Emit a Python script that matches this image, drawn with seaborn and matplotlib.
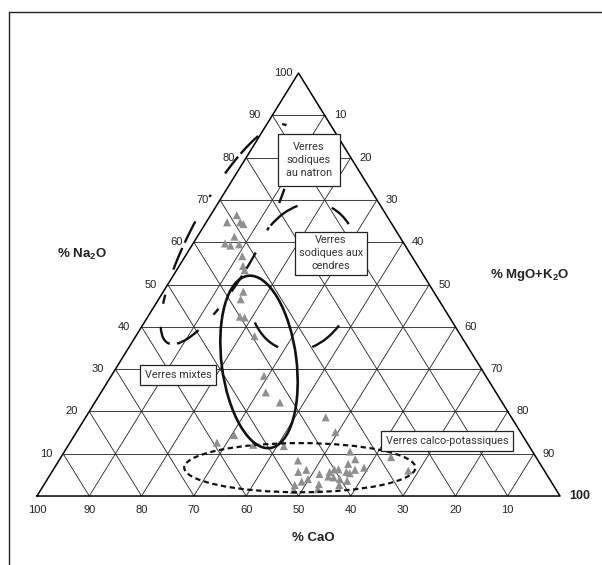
import numpy as np
import pandas as pd
import matplotlib
matplotlib.use("Agg")
import matplotlib.pyplot as plt
import seaborn as sns
from matplotlib.patches import Ellipse, Arc
from matplotlib.lines import Line2D

# ---------------- data ----------------
# % Na2O and % CaO of each glass, MgO+K2O is the remainder
na2o = [66.4, 64.7, 64.7, 64.3, 61.3, 59.7, 59.2, 59.5, 56.7, 54.4, 53.4,
        48.3, 46.5, 42.4, 42.2, 37.8, 28.4, 24.5, 22.1, 18.6, 14.4, 12.6,
        12.1, 11.8, 15.1, 10.5, 9.2, 6.0,
        8.4, 5.7, 6.2, 4.0, 3.4, 2.6, 5.2, 2.8, 5.7, 6.3, 6.3, 7.6, 8.7,
        6.7, 4.6, 4.4, 4.0, 5.7, 5.4, 6.2, 3.6, 2.6, 1.6, 1.4]
cao = [28.6, 31.3, 28.8, 28.4, 31.6, 34.2, 33.4, 31.6, 32.4, 33.4, 33.6,
       36.4, 37.8, 40.0, 39.2, 39.5, 42.4, 44.0, 42.5, 35.5, 55.1, 59.3,
       52.6, 46.9, 35.4, 34.9, 27.7, 26.0,
       45.9, 47.2, 45.4, 46.2, 47.7, 49.4, 43.4, 44.7, 41.2, 40.0, 39.2,
       36.7, 34.8, 34.1, 42.0, 41.1, 40.1, 38.0, 37.5, 36.1, 38.9, 40.9,
       45.5, 50.2]

ticks = [10, 20, 30, 40, 50, 60, 70, 80, 90]
cao_ticks = [100, 90, 80, 70, 60, 50, 40, 30, 20, 10]

# groups: label, text position (Na2O, CaO)
group_labels = ["Verres\nsodiques\nau natron", "Verres\nsodiques aux\ncendres",
                "Verres mixtes", "Verres calco-potassiques"]
group_na = [79.4, 57.4, 28.6, 13.0]
group_ca = [8.3, 15.1, 58.7, 15.1]
box_pad = [0.75, 0.35, 0.45, 0.45]

# outlines of the groups: centre (Na2O, CaO), width, height, angle
ell_na = [61.9, 51.8, 31.7, 6.7]
ell_ca = [32.7, 23.1, 41.7, 46.4]
ell_w = [47.4, 20.65, 14.3, 44.2]
ell_h = [13.0, 28.7, 33.2, 9.4]
ell_ang = [61.4, -15.0, 7.3, 0.0]

# hand-drawn dashes of the two sodic outlines (angles along the outline)
natron_dash = [(0, 2), (11, 19), (20.5, 30.5), (51, 54), (96.5, 130),
               (135.7, 152), (163, 166), (173, 181), (184, 192), (199, 202),
               (213, 228.5), (238, 266), (304, 308), (329.5, 337)]
cendres_dash = [(64.6, 82.9), (110, 137.7), (238, 265), (292, 321)]

H = 80.88  # height of the triangle in plot units (base = 100)


def tern(na, ca):
    na = np.asarray(na, dtype=float)
    ca = np.asarray(ca, dtype=float)
    return 100 - ca - na / 2, na * H / 100


sns.set_style("white")
plt.rcParams["font.family"] = ["Liberation Sans", "DejaVu Sans"]
plt.rcParams["mathtext.fontset"] = "custom"
plt.rcParams["mathtext.rm"] = "Liberation Sans"
plt.rcParams["mathtext.bf"] = "Liberation Sans:bold"

fig = plt.figure(figsize=(6.02, 5.65), dpi=100)
ax = fig.add_axes([0, 0, 1, 1])
ax.set_xlim(-7.07, 108.03)
ax.set_ylim(-13.19, 94.84)
ax.axis("off")

# frame
fig.add_artist(Line2D([0.015, 0.015], [0, 0.979], color="#222222", lw=1))
fig.add_artist(Line2D([0.015, 1], [0.979, 0.979], color="#222222", lw=1))

# grid
for k in ticks:
    # Na2O constant
    x, y = tern([k, k], [100 - k, 0])
    ax.plot(x, y, color="#444444", lw=0.75, zorder=1)
    # CaO constant
    x, y = tern([0, 100 - k], [k, k])
    ax.plot(x, y, color="#222222", lw=0.6, zorder=1)
    # MgO constant
    x, y = tern([0, 100 - k], [100 - k, 0])
    ax.plot(x, y, color="#222222", lw=0.6, zorder=1)

x, y = tern([0, 0, 100, 0], [100, 0, 0, 100])
ax.plot(x, y, color="black", lw=1.1, zorder=2)

# tick labels
tk = dict(fontsize=8, color="#222222", textcoords="offset points")
for k in ticks:
    ax.annotate(str(k), tern(k, 100 - k), xytext=(-8, 0), ha="right", va="center", **tk)
    ax.annotate(str(100 - k), tern(k, 0), xytext=(6.5, 0), ha="left", va="center", **tk)
for v in cao_ticks:
    ax.annotate(str(v), tern(0, v), xytext=(0, -10), ha="center", va="center", **tk)
ax.annotate("100", tern(100, 0), xytext=(-4, 0), ha="right", va="center", **tk)
ax.annotate("100", tern(0, 0), xytext=(6.5, 0), ha="left", va="center",
            fontsize=9, fontweight="bold", color="#222222", textcoords="offset points")

# axis titles
ax.text(8.6, 46.1, "% Na$_\\mathbf{2}$O", fontsize=9.5, fontweight="bold",
        ha="center", va="center", color="#222222")
ax.text(94.3, 42.3, "% MgO+K$_\\mathbf{2}$O", fontsize=9.5, fontweight="bold",
        ha="center", va="center", color="#222222")
ax.text(52.8, -8.0, "% CaO", fontsize=9.5, fontweight="bold",
        ha="center", va="center", color="#222222")

# points
px, py = tern(na2o, cao)
df = pd.DataFrame({"x": px, "y": py})
sns.scatterplot(data=df, x="x", y="y", marker="^", s=34, color="#8f8f8f",
                edgecolor="none", ax=ax, zorder=3, legend=False)
ax.set_xlabel("")
ax.set_ylabel("")

# group outlines: two hand-dashed sodic ones, a solid one and a dotted one
for i, pieces in enumerate([natron_dash, cendres_dash]):
    cx, cy = tern(ell_na[i], ell_ca[i])
    for t1, t2 in pieces:
        ax.add_patch(Arc((cx, cy), ell_w[i], ell_h[i], angle=ell_ang[i],
                         theta1=t1, theta2=t2, edgecolor="#111111", lw=1.7,
                         zorder=4))

cx, cy = tern(ell_na[2], ell_ca[2])
ax.add_patch(Ellipse((cx, cy), ell_w[2], ell_h[2], angle=ell_ang[2], fill=False,
                     edgecolor="#111111", lw=1.9, zorder=4))
cx, cy = tern(ell_na[3], ell_ca[3])
ax.add_patch(Ellipse((cx, cy), ell_w[3], ell_h[3], angle=ell_ang[3], fill=False,
                     edgecolor="#111111", lw=1.6, linestyle=(0, (2.4, 1.6)),
                     zorder=4))

# group labels in boxes
for lab, n, c, pad in zip(group_labels, group_na, group_ca, box_pad):
    tx, ty = tern(n, c)
    ax.text(tx, ty, lab, fontsize=7.8, ha="center", va="center", color="#333333",
            family=["Roboto", "DejaVu Sans"], linespacing=1.35, zorder=6,
            bbox=dict(boxstyle=f"square,pad={pad}", fc="white", ec="#222222", lw=0.9))

fig.savefig("out.png", dpi=100)
